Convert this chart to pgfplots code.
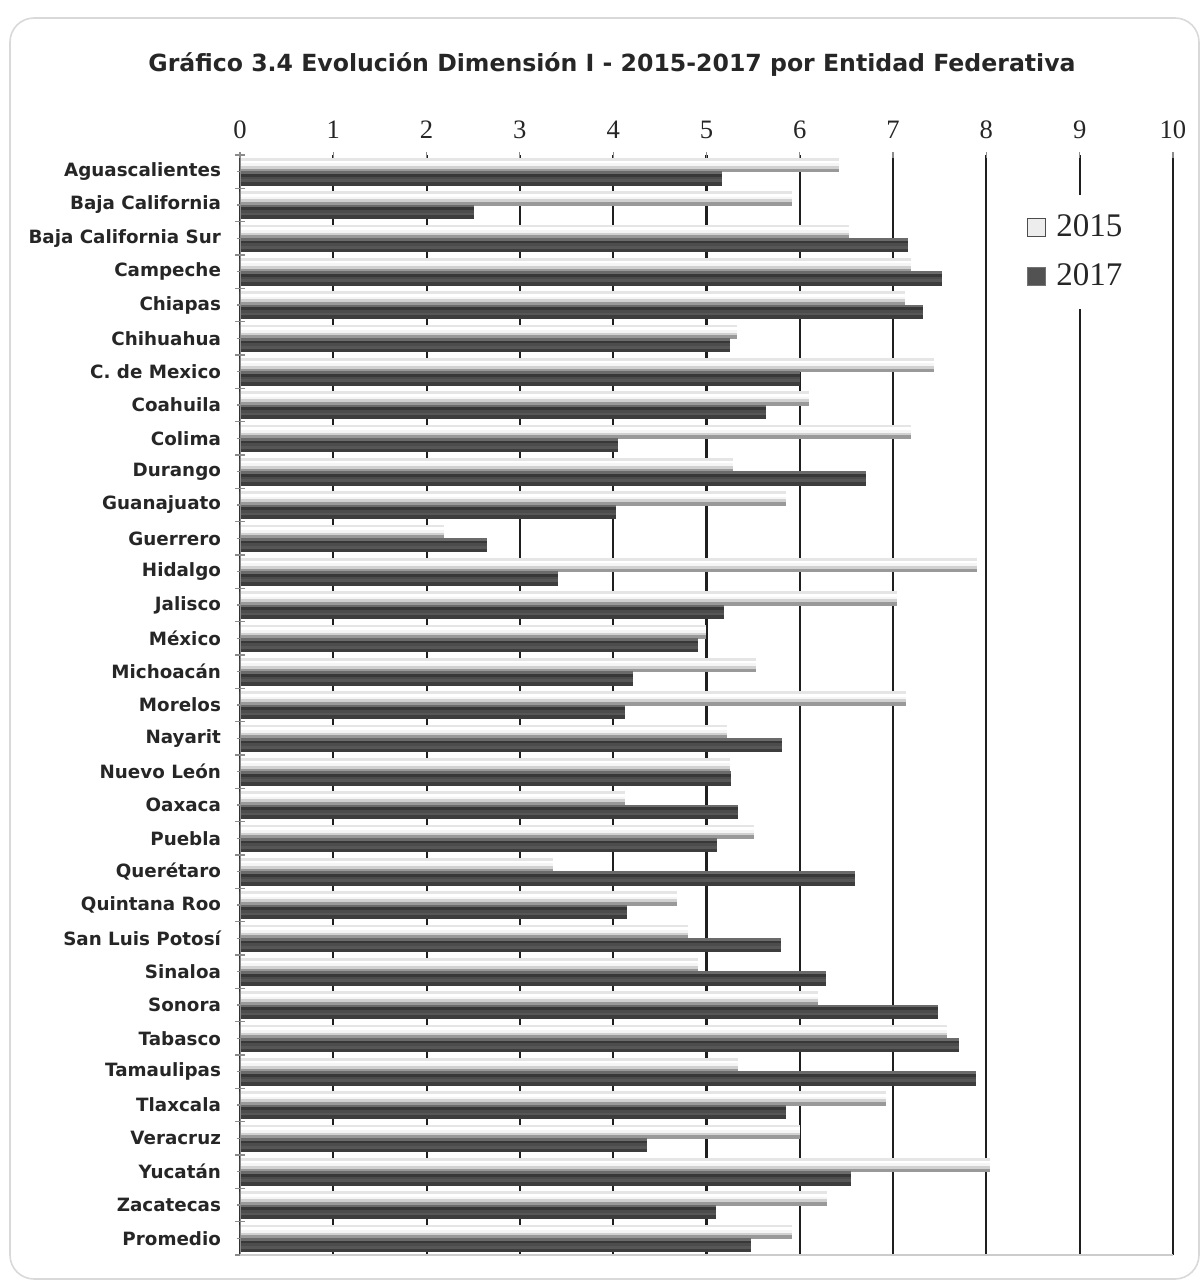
\documentclass[border=0pt]{standalone}
\usepackage{pgfplots}
\usepackage{pgfplotstable}
\pgfplotsset{compat=1.18}
\usepackage{fontspec}
\setmainfont{Liberation Serif}
\newfontfamily\labfont{DejaVu Sans}
\pgfplotstableread{
idx v15 v17
0 6.41 5.16
1 5.91 2.50
2 6.52 7.15
3 7.19 7.52
4 7.12 7.31
5 5.32 5.24
6 7.43 6.00
7 6.09 5.63
8 7.19 4.04
9 5.28 6.70
10 5.85 4.02
11 2.18 2.64
12 7.89 3.40
13 7.04 5.18
14 4.99 4.90
15 5.52 4.21
16 7.13 4.12
17 5.21 5.80
18 5.24 5.26
19 4.12 5.33
20 5.50 5.11
21 3.35 6.58
22 4.68 4.14
23 4.80 5.79
24 4.90 6.27
25 6.19 7.47
26 7.57 7.70
27 5.33 7.88
28 6.92 5.85
29 5.99 4.35
30 8.03 6.54
31 6.28 5.10
32 5.91 5.47
}\datatable
\begin{document}
\begin{tikzpicture}
\useasboundingbox (-120pt,-13.5pt) rectangle (481.5pt,627.5pt);
\draw[black!15, line width=0.8pt, rounded corners=12pt] (-115pt,-12pt) rectangle (479.5pt,618.5pt);
\node[font=\labfont\bfseries\fontsize{11.8}{13}\selectfont, text=black!85] at (186pt,595pt) {Gráfico 3.4 Evolución Dimensión I - 2015-2017 por Entidad Federativa};
\begin{axis}[
  scale only axis, width=466.5pt, height=550pt,
  xmin=0, xmax=10, ymin=-0.5, ymax=32.5, y dir=reverse,
  xtick={0,...,10}, xticklabel pos=upper, xtick pos=upper,
  xmajorgrids, grid style={black!88, line width=1.05pt},
  xticklabel style={font=\fontsize{13.3}{14}\selectfont, text=black!85, yshift=3pt},
  /pgf/number format/assume math mode=true,
  ytick={0,...,32}, minor ytick={-0.5,0.5,...,32.5}, ytick pos=left,
  tick align=center, major tick length=3pt, minor tick length=5pt,
  tick style={black!45, line width=0.6pt},
  yticklabels={Aguascalientes,Baja California,Baja California Sur,Campeche,Chiapas,Chihuahua,C. de Mexico,Coahuila,Colima,Durango,Guanajuato,Guerrero,Hidalgo,Jalisco,México,Michoacán,Morelos,Nayarit,Nuevo León,Oaxaca,Puebla,Querétaro,Quintana Roo,San Luis Potosí,Sinaloa,Sonora,Tabasco,Tamaulipas,Tlaxcala,Veracruz,Yucatán,Zacatecas,Promedio},
  yticklabel style={font=\labfont\bfseries\fontsize{9.15}{11}\selectfont, text=black!85, xshift=-4.5pt},
  axis line style={draw=none},
  legend style={at={(0.897,0.912)}, anchor=center, draw=none, fill=white,
    font=\fontsize{16.5}{18}\selectfont, text=black!85, row sep=8pt, inner xsep=6pt, inner ysep=8pt},
  legend cell align=left,
  every axis plot/.append style={xbar, bar width=0.08, line width=0.35pt},
]
% 2015 series: five stripes forming a light gradient
\addplot[fill=black!10, draw=black!10, bar shift=-0.36,
  legend image code/.code={\draw[black!70, fill=black!7, line width=0.5pt] (0pt,-4.5pt) rectangle (9pt,4.5pt);}]
  table[x=v15, y=idx] {\datatable};
\addlegendentry{\hspace{3pt}2015}
\addplot[fill=white, draw=white, bar shift=-0.28, forget plot] table[x=v15, y=idx] {\datatable};
\addplot[fill=black!4, draw=black!4, bar shift=-0.20, forget plot] table[x=v15, y=idx] {\datatable};
\addplot[fill=black!18, draw=black!18, bar shift=-0.12, forget plot] table[x=v15, y=idx] {\datatable};
\addplot[fill=black!40, draw=black!40, bar shift=-0.04, forget plot] table[x=v15, y=idx] {\datatable};
% 2017 series: five stripes forming a dark gradient
\addplot[fill=black!58, draw=black!58, bar shift=0.04,
  legend image code/.code={\draw[black!55, fill=black!68, line width=0.5pt] (0pt,-4.5pt) rectangle (9pt,4.5pt);}]
  table[x=v17, y=idx] {\datatable};
\addlegendentry{\hspace{3pt}2017}
\addplot[fill=black!78, draw=black!78, bar shift=0.12, forget plot] table[x=v17, y=idx] {\datatable};
\addplot[fill=black!70, draw=black!70, bar shift=0.20, forget plot] table[x=v17, y=idx] {\datatable};
\addplot[fill=black!66, draw=black!66, bar shift=0.28, forget plot] table[x=v17, y=idx] {\datatable};
\addplot[fill=black!76, draw=black!76, bar shift=0.36, forget plot] table[x=v17, y=idx] {\datatable};
\draw[black!45, line width=0.8pt] (axis cs:0,-0.5) -- (axis cs:0,32.5);
\draw[black!20, line width=0.8pt] (axis cs:0,32.5) -- (axis cs:10,32.5);
\end{axis}
\end{tikzpicture}
\end{document}
